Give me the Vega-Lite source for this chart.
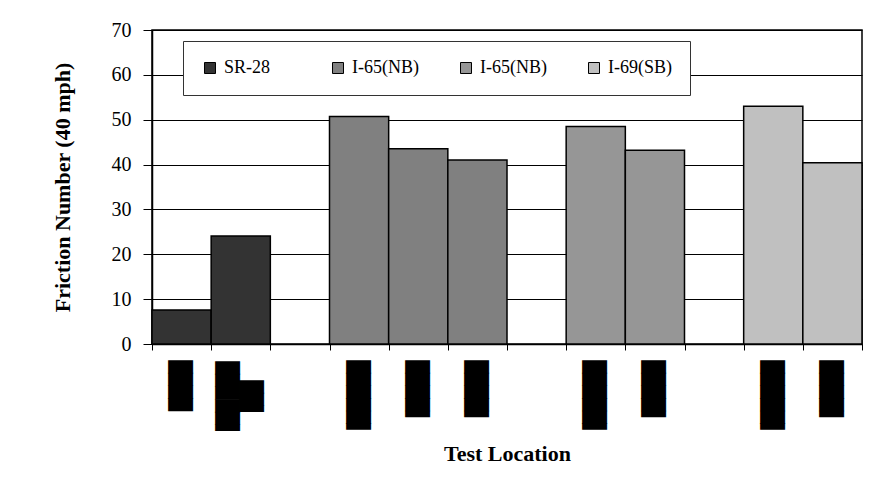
{
  "$schema": "https://vega.github.io/schema/vega-lite/v6.json",
  "autosize": {"type": "none"},
  "padding": {"left": 152, "top": 30, "right": 14, "bottom": 154},
  "width": 710,
  "height": 314,
  "background": "white",
  "data": {
    "values": [
      {"slot": 1, "series": "SR-28", "friction": 7.6},
      {"slot": 2, "series": "SR-28", "friction": 24.1},
      {"slot": 4, "series": "I-65(NB) #1", "friction": 50.7},
      {"slot": 5, "series": "I-65(NB) #1", "friction": 43.5},
      {"slot": 6, "series": "I-65(NB) #1", "friction": 41.0},
      {"slot": 8, "series": "I-65(NB) #2", "friction": 48.5},
      {"slot": 9, "series": "I-65(NB) #2", "friction": 43.2},
      {"slot": 11, "series": "I-69(SB)", "friction": 53.0},
      {"slot": 12, "series": "I-69(SB)", "friction": 40.4}
    ]
  },
  "mark": {"type": "bar", "stroke": "black", "strokeWidth": 1.5},
  "encoding": {
    "x": {
      "field": "slot",
      "type": "ordinal",
      "scale": {"domain": [1, 2, 3, 4, 5, 6, 7, 8, 9, 10, 11, 12], "paddingInner": 0, "paddingOuter": 0},
      "axis": {
        "title": "Test Location",
        "titleFont": "Liberation Serif",
        "titleFontSize": 22,
        "titleFontWeight": "bold",
        "titleColor": "black",
        "titlePadding": 7,
        "labelExpr": "['████', ['▐█████', '▐██'], '', '▐█████', '▐████', '▐████', '', '▐█████', '▐████', '', '▐█████', '▐████'][datum.value - 1]",
        "labelAngle": -90,
        "labelFont": "DejaVu Sans Mono",
        "labelFontSize": 21,
        "labelColor": "black",
        "labelPadding": {"condition": {"test": "datum.value == 2", "value": 49}, "value": 10},
        "labelAlign": {"condition": {"test": "datum.value == 2", "value": "center"}, "value": "right"},
        "labelOffset": {"condition": {"test": "datum.value == 2", "value": -12}, "value": 0},
        "labelOverlap": false,
        "labelBound": false,
        "labelLimit": 0,
        "labelLineHeight": 24,
        "tickBand": "extent",
        "tickSize": 6,
        "tickColor": "black",
        "domainColor": "black",
        "domainWidth": 1.5
      }
    },
    "y": {
      "field": "friction",
      "type": "quantitative",
      "scale": {"domain": [0, 70], "nice": false},
      "axis": {
        "title": "Friction Number (40 mph)",
        "titleFont": "Liberation Serif",
        "titleFontSize": 22,
        "titleFontWeight": "bold",
        "titleColor": "black",
        "titlePadding": 37,
        "values": [0, 10, 20, 30, 40, 50, 60, 70],
        "labelFont": "Liberation Serif",
        "labelFontSize": 20,
        "labelColor": "black",
        "labelPadding": 12,
        "tickSize": 9,
        "tickColor": "black",
        "domainColor": "black",
        "domainWidth": 1.5,
        "grid": true,
        "gridColor": "black",
        "gridWidth": 1
      }
    },
    "color": {
      "field": "series",
      "type": "nominal",
      "scale": {
        "domain": ["SR-28", "I-65(NB) #1", "I-65(NB) #2", "I-69(SB)"],
        "range": ["#333333", "#808080", "#969696", "#C0C0C0"]
      },
      "legend": {
        "title": null,
        "orient": "none",
        "legendX": 31,
        "legendY": 11,
        "direction": "horizontal",
        "columns": 4,
        "gridAlign": "all",
        "columnPadding": 38,
        "padding": 18,
        "fillColor": "white",
        "strokeColor": "#333333",
        "symbolType": "square",
        "symbolSize": 121,
        "symbolStrokeColor": "black",
        "symbolStrokeWidth": 1,
        "symbolOpacity": 1,
        "labelOffset": 5,
        "labelFont": "Liberation Serif",
        "labelFontSize": 18,
        "labelColor": "black",
        "labelExpr": "replace(replace(datum.label, ' #1', ''), ' #2', '')"
      }
    }
  },
  "config": {
    "view": {"stroke": "black", "strokeWidth": 1.5}
  }
}
